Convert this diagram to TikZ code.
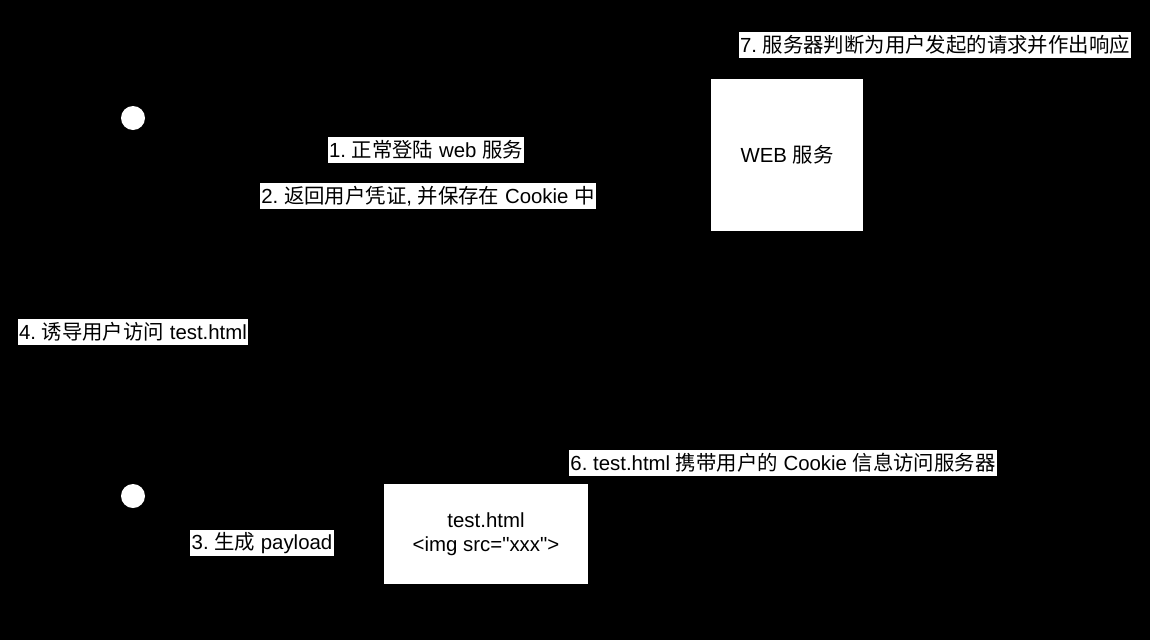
\documentclass[tikz,border=0pt]{standalone}
\usepackage{fontspec}
\setmainfont{Liberation Sans}[Ligatures=TeXOff]
\newfontfamily\cjk{Noto Sans CJK SC}
\newcommand{\zh}[1]{{\cjk #1}}
\usetikzlibrary{positioning}
\frenchspacing

\begin{document}
\begin{tikzpicture}[x=1pt,y=-1pt,
  lbl/.style={fill=white,text=black,font=\fontsize{20.4}{24}\selectfont,inner xsep=1.5pt,inner ysep=0pt,minimum height=26pt},
  box/.style={fill=white,text=black,font=\fontsize{20.4}{24}\selectfont,align=center,inner sep=0pt},
  head/.style={circle,fill=white,minimum size=24pt,inner sep=0pt}]
\fill[black] (0,0) rectangle (1150,640);
\node[head] (user) at (133,118) {};
\node[head] (hacker) at (133,496) {};
\node[box,minimum width=152pt,minimum height=152pt] (web) at (787,155) {WEB \zh{服务}};
\node[box,minimum width=204pt,minimum height=100pt] (page) at (486,534) {test.html\\<img src="xxx">};

\node[lbl] (step1) at (426,150) {1. \zh{正常登陆} web \zh{服务}};
\node[lbl] (step2) at (428,196) {2. \zh{返回用户凭证}, \zh{并保存在} Cookie \zh{中}};
\node[lbl] (step3) at (262,543) {3. \zh{生成} payload};
\node[lbl] (step4) at (133,332) {4. \zh{诱导用户访问} test.html};
\node[lbl] (step6) at (783,463) {6. test.html \zh{携带用户的} Cookie \zh{信息访问服务器}};
\node[lbl] (step7) at (935,45) {7. \zh{服务器判断为用户发起的请求并作出响应}};
\end{tikzpicture}
\end{document}
